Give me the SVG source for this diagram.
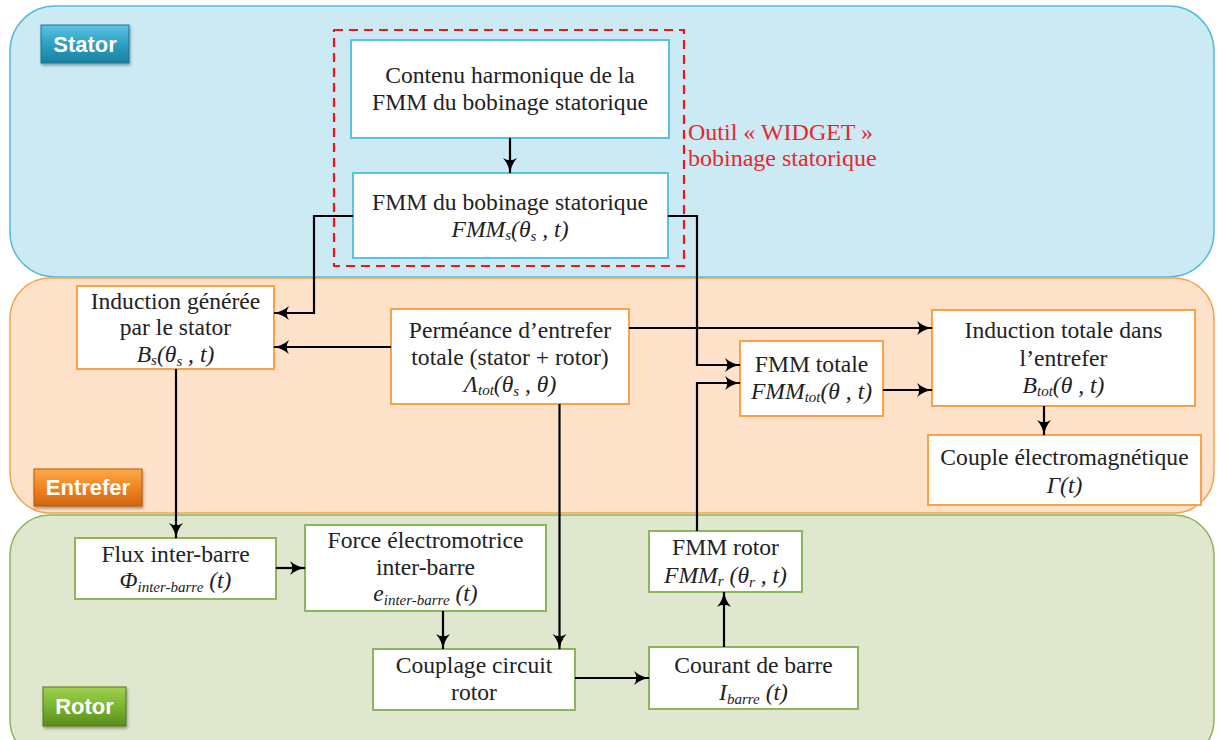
<svg xmlns="http://www.w3.org/2000/svg" width="1218" height="740" viewBox="0 0 1218 740">
<defs>
<linearGradient id="gS" x1="0" y1="0" x2="0" y2="1"><stop offset="0" stop-color="#5cc3e0"/><stop offset="0.5" stop-color="#2ea0c3"/><stop offset="1" stop-color="#1b7f9f"/></linearGradient>
<linearGradient id="gE" x1="0" y1="0" x2="0" y2="1"><stop offset="0" stop-color="#ffa94a"/><stop offset="0.5" stop-color="#f08420"/><stop offset="1" stop-color="#d2650f"/></linearGradient>
<linearGradient id="gR" x1="0" y1="0" x2="0" y2="1"><stop offset="0" stop-color="#9fd14f"/><stop offset="0.5" stop-color="#7ab532"/><stop offset="1" stop-color="#5a8c1c"/></linearGradient>
<filter id="sh" x="-20%" y="-20%" width="150%" height="160%"><feDropShadow dx="1" dy="2" stdDeviation="1.5" flood-color="#000" flood-opacity="0.35"/></filter>
<marker id="ar" viewBox="0 0 16 16" refX="15" refY="8" markerWidth="16" markerHeight="16" markerUnits="userSpaceOnUse" orient="auto">
<path d="M0,1 Q7,7 16,8 Q7,9 0,15 Q4.5,8 0,1 Z" fill="#000"/>
</marker>
</defs>
<style>
.reg{stroke-width:1.5}
.nb{fill:#fff;stroke:#5bc3e2;stroke-width:2}
.no{fill:#fff;stroke:#f7a34c;stroke-width:2}
.ng{fill:#fff;stroke:#8db55a;stroke-width:2}
.t{font-family:'Liberation Serif','DejaVu Serif',serif;font-size:23.6px;fill:#222;text-anchor:middle}
.m{font-style:italic}
.sub{font-size:15px}
.red{font-family:'Liberation Serif','DejaVu Serif',serif;font-size:24px;fill:#e8262e}
.bt{font-family:'Liberation Sans',Arial,sans-serif;font-weight:bold;font-size:22px;fill:#fff;text-anchor:middle}
.c{fill:none;stroke:#000;stroke-width:2.2;marker-end:url(#ar)}
</style>
<rect class="reg" x="10" y="6" width="1204" height="271" rx="45" fill="#cbeaf4" stroke="#55b9dc"/>
<rect class="reg" x="10" y="278" width="1204" height="235" rx="40" fill="#fde1c8" stroke="#f5a24c"/>
<rect class="reg" x="10" y="515" width="1204" height="245" rx="40" fill="#dfe7cf" stroke="#8cb45a"/>

<g id="badge-stator"><rect x="41" y="25" width="88" height="38" fill="url(#gS)" stroke="#1b7593" stroke-width="1" filter="url(#sh)"/><text class="bt" x="85" y="52">Stator</text></g>
<g id="badge-entrefer"><rect x="34" y="469" width="108" height="37" fill="url(#gE)" stroke="#b8560c" stroke-width="1" filter="url(#sh)"/><text class="bt" x="88" y="495">Entrefer</text></g>
<g id="badge-rotor"><rect x="43" y="687" width="83" height="39" fill="url(#gR)" stroke="#4f7a18" stroke-width="1" filter="url(#sh)"/><text class="bt" x="84.5" y="714">Rotor</text></g>

<g id="widget">
<rect x="334" y="30" width="350" height="236" fill="none" stroke="#f0141e" stroke-width="2.2" stroke-dasharray="9,6"/>
<text class="red" x="688" y="140">Outil « WIDGET »</text>
<text class="red" x="688" y="166">bobinage statorique</text>
</g>

<g id="n-contenu"><rect class="nb" x="351" y="40" width="318" height="98"/>
<text class="t" x="510" y="83">Contenu harmonique de la</text>
<text class="t" x="510" y="110">FMM du bobinage statorique</text></g>

<g id="n-fmms"><rect class="nb" x="353" y="173" width="315" height="85"/>
<text class="t" x="510" y="210">FMM du bobinage statorique</text>
<text class="t m" x="510" y="237">FMM<tspan class="sub" dy="3">s</tspan><tspan dy="-3">(θ</tspan><tspan class="sub" dy="4">s</tspan><tspan dy="-4"> , t)</tspan></text></g>

<g id="n-bs"><rect class="no" x="77" y="286" width="197" height="83"/>
<text class="t" x="175.5" y="309">Induction générée</text>
<text class="t" x="175.5" y="335">par le stator</text>
<text class="t m" x="175.5" y="362">B<tspan class="sub" dy="3">s</tspan><tspan dy="-3">(θ</tspan><tspan class="sub" dy="4">s</tspan><tspan dy="-4"> , t)</tspan></text></g>

<g id="n-perm"><rect class="no" x="391" y="309" width="238" height="95"/>
<text class="t" x="510" y="338">Perméance d’entrefer</text>
<text class="t" x="510" y="365">totale (stator + rotor)</text>
<text class="t m" x="510" y="392">Λ<tspan class="sub" dy="3">tot</tspan><tspan dy="-3">(θ</tspan><tspan class="sub" dy="4">s</tspan><tspan dy="-4"> , θ)</tspan></text></g>

<g id="n-fmmtot"><rect class="no" x="740" y="341" width="143" height="75"/>
<text class="t" x="811.5" y="372">FMM totale</text>
<text class="t m" x="811.5" y="399">FMM<tspan class="sub" dy="3">tot</tspan><tspan dy="-3">(θ , t)</tspan></text></g>

<g id="n-btot"><rect class="no" x="932" y="310" width="263" height="96"/>
<text class="t" x="1063.5" y="338">Induction totale dans</text>
<text class="t" x="1063.5" y="366">l’entrefer</text>
<text class="t m" x="1063.5" y="393">B<tspan class="sub" dy="3">tot</tspan><tspan dy="-3">(θ , t)</tspan></text></g>

<g id="n-couple"><rect class="no" x="928" y="435" width="273" height="70"/>
<text class="t" x="1064.5" y="465">Couple électromagnétique</text>
<text class="t m" x="1064.5" y="493">Γ(t)</text></g>

<g id="n-flux"><rect class="ng" x="75" y="538" width="201" height="61"/>
<text class="t" x="175.5" y="562">Flux inter-barre</text>
<text class="t m" x="175.5" y="588">Φ<tspan class="sub" dy="4">inter-barre</tspan><tspan dy="-4"> (t)</tspan></text></g>

<g id="n-fem"><rect class="ng" x="305" y="525" width="241" height="86"/>
<text class="t" x="425.5" y="548">Force électromotrice</text>
<text class="t" x="425.5" y="575">inter-barre</text>
<text class="t m" x="425.5" y="601">e<tspan class="sub" dy="4">inter-barre</tspan><tspan dy="-4"> (t)</tspan></text></g>

<g id="n-couplage"><rect class="ng" x="373" y="649" width="202" height="61"/>
<text class="t" x="474" y="673">Couplage circuit</text>
<text class="t" x="474" y="700">rotor</text></g>

<g id="n-fmmr"><rect class="ng" x="649" y="531" width="153" height="61"/>
<text class="t" x="725.5" y="555">FMM rotor</text>
<text class="t m" x="725.5" y="583">FMM<tspan class="sub" dy="3">r</tspan><tspan dy="-3"> (θ</tspan><tspan class="sub" dy="4">r</tspan><tspan dy="-4"> , t)</tspan></text></g>

<g id="n-courant"><rect class="ng" x="649" y="647" width="209" height="62"/>
<text class="t" x="753.5" y="673">Courant de barre</text>
<text class="t m" x="753.5" y="700">I<tspan class="sub" dy="4">barre</tspan><tspan dy="-4"> (t)</tspan></text></g>

<g id="connectors">
<path class="c" d="M510,138 V173"/>
<path class="c" d="M353,216 H314 V313 H274"/>
<path class="c" d="M668,216 H697 V365 H740"/>
<path class="c" d="M391,347 H274"/>
<path class="c" d="M629,328 H932"/>
<path class="c" d="M559.5,404 V649"/>
<path class="c" d="M883,390 H932"/>
<path class="c" d="M1044,406 V435"/>
<path class="c" d="M176,369 V538"/>
<path class="c" d="M276,568 H305"/>
<path class="c" d="M443,611 V649"/>
<path class="c" d="M575,678 H649"/>
<path class="c" d="M724,647 V592"/>
<path class="c" d="M697,531 V383 H740"/>
</g>
</svg>
